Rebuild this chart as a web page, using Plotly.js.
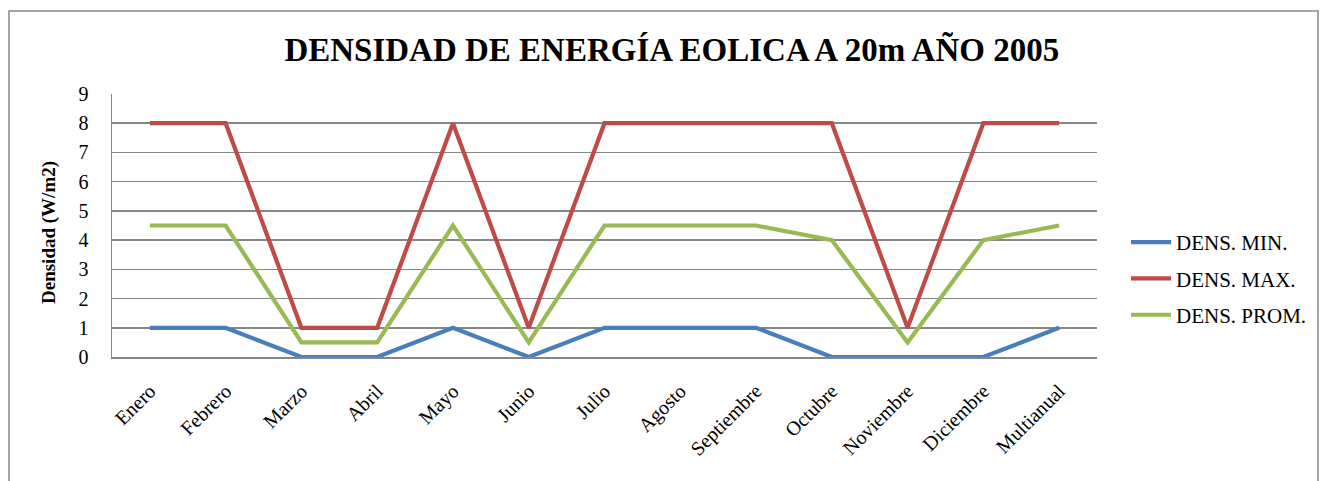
<!DOCTYPE html>
<html>
<head>
<meta charset="utf-8">
<script src="https://cdn.plot.ly/plotly-3.0.1.min.js"></script>
<style>html,body{margin:0;padding:0;background:#fff;}#chart{width:1325px;height:481px;}</style>
</head>
<body>
<div id="chart"></div>
<script>
const categories = ["Enero","Febrero","Marzo","Abril","Mayo","Junio","Julio","Agosto","Septiembre","Octubre","Noviembre","Diciembre","Multianual"];
const densMin  = [1, 1, 0, 0, 1, 0, 1, 1, 1, 0, 0, 0, 1];
const densMax  = [8, 8, 1, 1, 8, 1, 8, 8, 8, 8, 1, 8, 8];
const densProm = [4.5, 4.5, 0.5, 0.5, 4.5, 0.5, 4.5, 4.5, 4.5, 4, 0.5, 4, 4.5];
const seriesNames = ["DENS. MIN.", "DENS. MAX.", "DENS. PROM."];
const yTicks = [0,1,2,3,4,5,6,7,8,9];

const colors = ["#4a7ebb", "#be4b48", "#98b954"];
const serif = "'Liberation Serif', 'Times New Roman', serif";
const data = [densMin, densMax, densProm].map((vals, i) => ({
  x: categories, y: vals, type: "scatter", mode: "lines",
  name: seriesNames[i], legendgroup: "g" + i,
  line: {color: colors[i], width: 4.2}
}));

const W = 1325, H = 481;
const m = {l: 112, r: 228, t: 94, b: 124};
const pw = W - m.l - m.r, ph = H - m.t - m.b;
const px = v => (v - m.l) / pw;
const py = v => (H - m.b - v) / ph;

const layout = {
  width: W, height: H, margin: m,
  paper_bgcolor: "#fff", plot_bgcolor: "#fff",
  showlegend: true,
  title: {text: "DENSIDAD DE ENERGÍA EOLICA A 20m AÑO 2005",
    font: {family: serif, size: 33, color: "#000", weight: "bold"},
    x: 0.507, xanchor: "center", y: 1 - 49/H, yanchor: "middle"},
  xaxis: {type: "category", range: [-0.5, 12.5], tickangle: -45,
    tickfont: {family: serif, size: 20, color: "#000"},
    showgrid: false, showline: true, linecolor: "#868686", linewidth: 1.5,
    zeroline: false, ticks: "", ticklabelstandoff: 13, fixedrange: true},
  yaxis: {range: [0, 9], tickvals: yTicks, ticktext: yTicks.map(String),
    tickfont: {family: serif, size: 20, color: "#000"},
    showgrid: true, gridcolor: "#868686", gridwidth: 1.5,
    showline: true, linecolor: "#868686", linewidth: 1.5, zeroline: false,
    ticks: "", ticklabelstandoff: 18, fixedrange: true},
  annotations: [{text: "<b>Densidad (W/m2)</b>", xref: "paper", yref: "paper",
    x: px(49), y: py(233), xanchor: "center", yanchor: "middle", textangle: -90,
    showarrow: false, font: {family: serif, size: 19, color: "#000"}}],
  legend: {x: px(1126), xanchor: "left", y: py(222), yanchor: "top",
    font: {family: serif, size: 21, color: "#000"},
    traceorder: "grouped", tracegroupgap: 6, itemwidth: 40, bgcolor: "rgba(0,0,0,0)"},
  shapes: [{type: "rect", xref: "paper", yref: "paper",
    x0: px(9), x1: px(1318), y0: py(500), y1: py(11),
    line: {color: "#868686", width: 1.5}, fillcolor: "rgba(0,0,0,0)", layer: "below"}]
};

Plotly.newPlot("chart", data, layout, {displayModeBar: false, staticPlot: true});
</script>
</body>
</html>
